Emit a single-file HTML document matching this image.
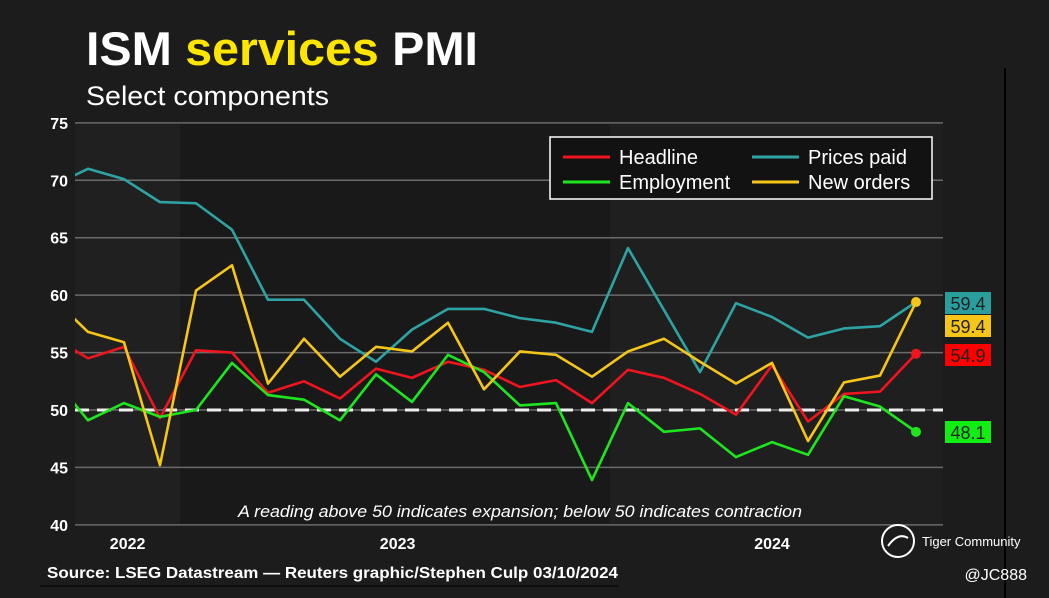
<!DOCTYPE html>
<html><head><meta charset="utf-8"><style>
html,body{margin:0;padding:0;background:#1c1c1d;}
body{width:1049px;height:598px;overflow:hidden;position:relative;font-family:"Liberation Sans",sans-serif;}
</style></head><body>
<svg id="chart" width="1049" height="598" xmlns="http://www.w3.org/2000/svg" style="position:absolute;left:0;top:0">
<rect x="0" y="0" width="1049" height="598" fill="#1c1c1d"/>
<rect x="75" y="123" width="105" height="402" fill="#202021"/>
<rect x="180" y="123" width="430" height="402" fill="#19191a"/>
<rect x="610" y="123" width="333" height="402" fill="#1f1f20"/>
<line x1="1005" y1="68" x2="1005" y2="598" stroke="#000" stroke-width="2"/>
<text x="86" y="65" font-size="47" font-weight="bold" fill="#fff" textLength="392" lengthAdjust="spacingAndGlyphs">ISM <tspan fill="#ffe600">services</tspan> PMI</text>
<text x="86" y="105" font-size="27" fill="#fff" textLength="243" lengthAdjust="spacingAndGlyphs">Select components</text>
<g id="grid"></g>
<g id="series"></g>
<g>
<rect x="550" y="137" width="382" height="62" fill="#121212" stroke="#fff" stroke-width="1.5"/>
<line x1="563" y1="157" x2="610" y2="157" stroke="#f0141e" stroke-width="3"/>
<text x="619" y="164" font-size="20" fill="#fff">Headline</text>
<line x1="752" y1="157" x2="799" y2="157" stroke="#2ea3a3" stroke-width="3"/>
<text x="808" y="164" font-size="20" fill="#fff">Prices paid</text>
<line x1="563" y1="182" x2="610" y2="182" stroke="#1ee61e" stroke-width="3"/>
<text x="619" y="189" font-size="20" fill="#fff">Employment</text>
<line x1="752" y1="182" x2="799" y2="182" stroke="#f5c518" stroke-width="3"/>
<text x="808" y="189" font-size="20" fill="#fff">New orders</text>
</g>
<text x="238" y="517" font-size="17" font-style="italic" fill="#fff" textLength="564" lengthAdjust="spacingAndGlyphs">A reading above 50 indicates expansion; below 50 indicates contraction</text>
<text x="47" y="578" font-size="16" font-weight="bold" fill="#fff" textLength="571" lengthAdjust="spacingAndGlyphs">Source: LSEG Datastream — Reuters graphic/Stephen Culp 03/10/2024</text>
<line x1="40" y1="586" x2="618" y2="586" stroke="#000" stroke-width="1"/>
<g>
<circle cx="898" cy="541" r="16" fill="none" stroke="#fff" stroke-width="2"/>
<path d="M888 546 Q898 532 908 538" fill="none" stroke="#fff" stroke-width="2"/>
<text x="922" y="546" font-size="13" fill="#fff">Tiger Community</text>
</g>
<text x="1027" y="580" font-size="16" fill="#fff" text-anchor="end">@JC888</text>
</svg>
<script>
const months = ["2021-11","2021-12","2022-01","2022-02","2022-03","2022-04","2022-05","2022-06","2022-07","2022-08","2022-09","2022-10","2022-11","2022-12","2023-01","2023-02","2023-03","2023-04","2023-05","2023-06","2023-07","2023-08","2023-09","2023-10","2023-11"];
const headline = [56.4,54.5,55.5,49.3,55.2,55.0,51.5,52.5,51.0,53.6,52.8,54.2,53.5,52.0,52.6,50.6,53.5,52.8,51.4,49.6,53.9,49.0,51.4,51.6,54.9];
const pricesPaid = [69.5,71.0,70.1,68.1,68.0,65.7,59.6,59.6,56.2,54.2,57.0,58.8,58.8,58.0,57.6,56.8,64.1,58.7,53.3,59.3,58.1,56.3,57.1,57.3,59.4];
const employment = [52.9,49.1,50.6,49.4,50.0,54.1,51.3,50.9,49.1,53.1,50.7,54.8,53.3,50.4,50.6,43.9,50.6,48.1,48.4,45.9,47.2,46.1,51.2,50.3,48.1];
const newOrders = [59.8,56.8,55.9,45.2,60.4,62.6,52.3,56.2,52.9,55.5,55.1,57.6,51.8,55.1,54.8,52.9,55.1,56.2,54.2,52.3,54.1,47.3,52.4,53.0,59.4];
const yTicks = [40,45,50,55,60,65,70,75];
const yearLabels = ["2022","2023","2024"];
const yearIndex = [2.1,9.6,20.0];

const NS="http://www.w3.org/2000/svg";
const x0=52, step=36, plotL=75, plotR=943;
function xs(i){return x0+i*step;}
function ys(v){return 410-(v-50)*402/35;}
function mk(t,a,p){const e=document.createElementNS(NS,t);for(const k in a)e.setAttribute(k,a[k]);p.appendChild(e);return e;}
const grid=document.getElementById('grid');
yTicks.forEach(t=>{
  const l=mk('line',{x1:plotL,x2:plotR,y1:ys(t),y2:ys(t),stroke:'#6a6a6a','stroke-width':1.5},grid);
  
  
  const tx=mk('text',{x:68,y:ys(t)+6,'font-size':16,'font-weight':'bold',fill:'#fff','text-anchor':'end'},grid);
  tx.textContent=t;
  
  
});
yearLabels.forEach((y,i)=>{
  const tx=mk('text',{x:xs(yearIndex[i]),y:549,'font-size':16,'font-weight':'bold',fill:'#fff','text-anchor':'middle'},grid);
  tx.textContent=y;
  
  
});
const ref=mk('line',{x1:plotL,x2:plotR,y1:ys(50),y2:ys(50),stroke:'#eee','stroke-width':3,'stroke-dasharray':'14,8'},grid);



const sg=document.getElementById('series');
const defs=mk('defs',{},sg);
const cp=mk('clipPath',{id:'clip'},defs);
mk('rect',{x:plotL,y:100,width:plotR-plotL,height:440},cp);
const series=[
 {name:'prices-paid',data:pricesPaid,color:'#2ea3a3'},
 {name:'headline',data:headline,color:'#f0141e'},
 {name:'employment',data:employment,color:'#1ee61e'},
 {name:'new-orders',data:newOrders,color:'#f5c518'}
];
series.forEach(s=>{
  const pts=s.data.map((v,i)=>xs(i)+','+ys(v)).join(' ');
  const pl=mk('polyline',{points:pts,fill:'none',stroke:s.color,'stroke-width':2.6,'stroke-linejoin':'round','clip-path':'url(#clip)'},sg);
  
  
  if(s.name!=='prices-paid'){
    const n=s.data.length-1;
    const c=mk('circle',{cx:xs(n),cy:ys(s.data[n]),r:5,fill:s.color},sg);
    
    
  }
});
const labels=[
 {name:'prices-paid',data:pricesPaid,color:'#2a9d9d',y:292},
 {name:'new-orders',data:newOrders,color:'#f5c518',y:315},
 {name:'headline',data:headline,color:'#ff0000',y:344},
 {name:'employment',data:employment,color:'#11ee11',y:421}
];
labels.forEach(l=>{
  const v=l.data[l.data.length-1];
  const r=mk('rect',{x:945,y:l.y,width:46,height:22,fill:l.color},sg);
  
  
  const t=mk('text',{x:968,y:l.y+18,'font-size':18,fill:'#222','text-anchor':'middle'},sg);
  t.textContent=v.toFixed(1);
  
  
});
</script>
</body></html>
